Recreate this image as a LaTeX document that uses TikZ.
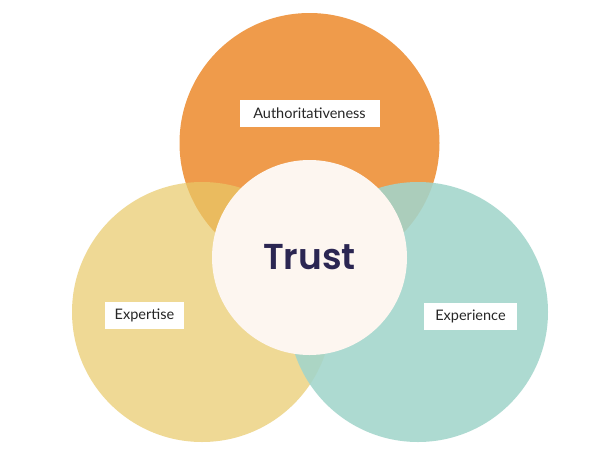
\documentclass[tikz,border=0pt]{standalone}
\usepackage{fontspec}
\setmainfont{Lato}
\newfontfamily\trustfont{Poppins SemiBold}
\usepackage{tikz}
\usetikzlibrary{positioning}

\definecolor{authorange}{HTML}{EF9B4B}
\definecolor{expyellow}{HTML}{E8C968}
\definecolor{expteal}{HTML}{A2D5CB}
\definecolor{trustcream}{HTML}{FDF6F0}
\definecolor{trustnavy}{HTML}{2B2652}

\begin{document}
\begin{tikzpicture}[x=1pt, y=-1pt, on grid,
    petal/.style={circle, minimum size=260pt, inner sep=0pt},
    tag/.style={fill=white, inner sep=0pt, minimum height=27pt, text=black!85,
        font=\fontsize{14.5}{17}\selectfont}]

    \useasboundingbox (0,0) rectangle (600,456);

    \node [circle, minimum size=195pt, inner sep=0pt] (trust) at (309.5,257.5) {};

    \node [petal, fill=authorange, above=114.5pt of trust] (auth) {};
    \node [petal, fill=expyellow, fill opacity=0.7, below left=54.5pt and 107.5pt of trust] (expert) {};
    \node [petal, fill=expteal, fill opacity=0.88, below right=54.5pt and 108.5pt of trust] (exper) {};

    % centre on top
    \node [circle, minimum size=195pt, inner sep=0pt, fill=trustcream, text=trustnavy,
        font=\trustfont\fontsize{36}{40}\selectfont] at (trust) {Trust};

    \node [tag, minimum width=140pt, above=30pt of auth] (authlbl) {Authoritativeness};
    \node [tag, minimum width=79pt, below left=3.5pt and 57.5pt of expert] (expertlbl) {Expertise};
    \node [tag, minimum width=93pt, below right=4pt and 52.5pt of exper] (experlbl) {Experience};

\end{tikzpicture}
\end{document}
